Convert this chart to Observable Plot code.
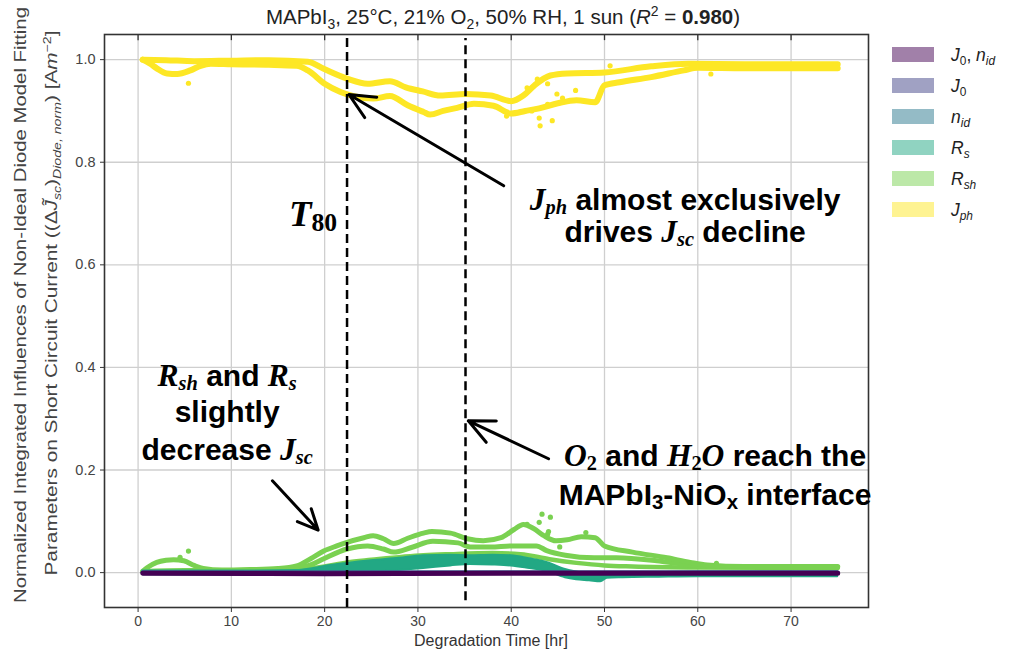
<!DOCTYPE html>
<html>
<head>
<meta charset="utf-8">
<script src="https://cdn.jsdelivr.net/npm/d3@7"></script>
<script src="https://cdn.jsdelivr.net/npm/@observablehq/plot@0.6"></script>
<style>
  html, body { margin: 0; padding: 0; background: #fff; }
  #chart { width: 1011px; height: 661px; }
</style>
</head>
<body>
<div id="chart"></div>
<script>
// ---- axis ticks ----
const xTicks = [0, 10, 20, 30, 40, 50, 60, 70];
const yTicks = [0, 0.2, 0.4, 0.6, 0.8, 1.0];

// ---- series (legend order) ----
const seriesColors = ["#440154", "#414487", "#2a788e", "#22a884", "#7ad151", "#fde725"];

// J_ph influence: two bands of points [hour, value]
const jphUpper = [[0.5,1.0],[3,0.999],[6,0.997],[10,0.998],[14,0.999],[18.2,0.996],[19.9,0.982],[22.4,0.963],[24.6,0.953],[27,0.958],[28.7,0.946],[30.5,0.938],[32.4,0.930],[35.1,0.933],[37.8,0.930],[40,0.919],[41.3,0.930],[42.5,0.950],[44.2,0.969],[46,0.973],[50,0.975],[55,0.987],[59,0.992],[65,0.991],[70,0.991],[75,0.991]];
const jphLower = [[0.5,1.0],[1.3,0.992],[2,0.983],[3.1,0.973],[4.2,0.972],[5.6,0.979],[6.7,0.988],[7.8,0.992],[10,0.991],[14,0.990],[17,0.988],[18.2,0.979],[20,0.953],[21.7,0.937],[23.1,0.929],[25.2,0.924],[27,0.929],[28.9,0.911],[30.6,0.898],[31.3,0.893],[32.7,0.900],[34.2,0.906],[36,0.914],[38.1,0.910],[40,0.895],[41.5,0.900],[43,0.905],[45,0.915],[47,0.921],[49,0.917],[50,0.950],[51.6,0.956],[55,0.966],[58.5,0.979],[60,0.984],[65,0.983],[70,0.983],[75,0.983]];
const jphScatter = [[5.4,0.954],[39.5,0.890],[41.7,0.945],[42.2,0.900],[42.8,0.962],[43.0,0.886],[43.1,0.871],[43.9,0.913],[43.9,0.953],[44.4,0.881],[44.9,0.933],[45.5,0.925],[46.9,0.940],[50.6,0.988],[61.4,0.972]];

// R_sh influence: three bands plus stray points
const rshUpper = [[0.5,0.003],[1,0.010],[2,0.020],[3,0.024],[3.8,0.025],[4.9,0.023],[6,0.014],[7,0.008],[9,0.005],[12,0.006],[15,0.008],[17,0.013],[18.5,0.027],[19.9,0.042],[21.3,0.052],[22.4,0.059],[24.2,0.068],[25.2,0.072],[26.3,0.066],[27.4,0.057],[28.9,0.067],[30.6,0.077],[31.5,0.080],[33.5,0.077],[35.3,0.066],[37,0.062],[38.9,0.068],[40.3,0.084],[41.3,0.094],[42.4,0.086],[43.5,0.072],[44.8,0.062],[46,0.064],[47.5,0.070],[49,0.068],[50,0.052],[53,0.040],[56.7,0.029],[59.2,0.020],[61,0.015],[65,0.012],[75,0.012]];
const rshMiddle = [[0.5,0.002],[5,0.004],[10,0.004],[15,0.005],[17,0.008],[18.5,0.015],[19.9,0.027],[22.4,0.046],[24.6,0.052],[26.3,0.046],[27.4,0.040],[29.3,0.049],[31.6,0.061],[34.3,0.058],[35.6,0.050],[37.8,0.050],[40,0.052],[42.7,0.052],[43.8,0.043],[45.8,0.034],[48.9,0.029],[51.3,0.029],[55.6,0.023],[58.6,0.016],[61,0.012],[75,0.011]];
const rshLower = [[17,0.004],[20,0.012],[22.4,0.020],[25,0.025],[30.6,0.034],[33.5,0.036],[38,0.038],[41,0.036],[44.1,0.026],[47,0.019],[50,0.014],[53,0.012],[60,0.010],[75,0.009]];
const rshScatter = [[4.5,0.030],[5.4,0.042],[41.7,0.094],[43.0,0.098],[43.3,0.114],[44.2,0.108],[43.9,0.075],[44.0,0.080],[45.2,0.050],[48.0,0.078],[62,0.018]];

// R_s influence: band of points, [hour, low, high]
const rsBand = [[0.5,-0.004,0.003],[10,-0.005,0.003],[17,-0.005,0.004],[18.5,-0.004,0.007],[20,-0.003,0.012],[22.5,-0.002,0.018],[25,0.000,0.023],[28,0.004,0.028],[30.6,0.008,0.033],[33.5,0.013,0.034],[35.6,0.016,0.033],[38,0.015,0.034],[40,0.013,0.033],[42,0.008,0.027],[43.8,0.003,0.020],[45.8,-0.010,0.006],[47,-0.014,0.001],[48.4,-0.016,-0.003],[49.6,-0.018,-0.004],[50.3,-0.011,0.000],[52,-0.010,0.000],[55.6,-0.009,0.000],[60,-0.008,0.001],[75,-0.008,0.001]];

// n_id, J_0 and combined J_0, n_id influences stay at zero
const nidLine = [[0.5,0.0],[75,0.0]];
const j0Line = [[0.5,0.0],[75,0.0]];
const j0nidLine = [[0.5,-0.001],[20,-0.002],[40,-0.001],[75,-0.001]];

// markers for T80 and for the O2 / H2O arrival
const markerLines = [{x: 22.4, y1: -0.068, y2: 1.049}, {x: 35.1, y1: -0.055, y2: 1.041}];

// annotation arrows (tail -> head)
const arrows = [
  {x1: 39.2, y1: 0.754, x2: 22.6, y2: 0.932},
  {x1: 14.4, y1: 0.179, x2: 19.3, y2: 0.083},
  {x1: 44.0, y1: 0.222, x2: 35.4, y2: 0.296}
];

const X = d => d[0], Y = d => d[1];
const band = (data, color, w) => Plot.line(data, {x: X, y: Y, stroke: color, strokeWidth: w, curve: "monotone-x", strokeLinecap: "round", strokeLinejoin: "round"});

const chart = Plot.plot({
  width: 1011,
  height: 661,
  marginLeft: 104,
  marginRight: 143,
  marginTop: 34,
  marginBottom: 54,
  x: {domain: [-3.6, 78.3]},
  y: {domain: [-0.068, 1.049]},
  style: {fontFamily: "'Liberation Sans', Arial, sans-serif", fontSize: "14px", color: "#333", background: "#fff", overflow: "visible"},
  marks: [
    Plot.gridX(xTicks, {stroke: "#cfcfcf", strokeOpacity: 1, strokeWidth: 1.3}),
    Plot.gridY(yTicks, {stroke: "#cfcfcf", strokeOpacity: 1, strokeWidth: 1.3}),
    Plot.axisX(xTicks, {tickSize: 5, tickPadding: 4, label: null, fill: "#444", fontSize: 14}),
    Plot.axisY(yTicks, {tickSize: 4, tickPadding: 5, label: null, tickFormat: d => d.toFixed(1), fill: "#444", fontSize: 14.5}),
    Plot.ruleX(xTicks, {y1: 1.049, y2: 1.037, stroke: "#333", strokeWidth: 1.3}),

    // J_ph
    band(jphUpper, seriesColors[5], 6),
    band(jphLower, seriesColors[5], 6),
    Plot.dot(jphScatter, {x: X, y: Y, r: 2.6, fill: seriesColors[5]}),
    // R_sh
    band(rshLower, seriesColors[4], 4.5),
    band(rshMiddle, seriesColors[4], 5),
    band(rshUpper, seriesColors[4], 5),
    Plot.dot(rshScatter, {x: X, y: Y, r: 2.6, fill: seriesColors[4]}),
    // R_s
    Plot.areaY(rsBand, {x: d => d[0], y1: d => d[1], y2: d => d[2], fill: seriesColors[3], stroke: seriesColors[3], strokeWidth: 2, curve: "monotone-x"}),
    // n_id, J_0, J_0 & n_id
    band(nidLine, seriesColors[2], 4),
    band(j0Line, seriesColors[1], 4),
    band(j0nidLine, seriesColors[0], 5),

    Plot.frame({stroke: "#333", strokeWidth: 1.6}),

    Plot.ruleX(markerLines, {x: "x", y1: "y1", y2: "y2", stroke: "#000", strokeWidth: 2.5, strokeDasharray: "9,5"}),
    Plot.arrow(arrows, {x1: "x1", y1: "y1", x2: "x2", y2: "y2", stroke: "#000", strokeWidth: 3, headLength: 14, headAngle: 50})
  ]
});

document.getElementById("chart").appendChild(chart);

// ---------- text layers ----------
const svg = d3.select(chart);
const xs = chart.scale("x"), ys = chart.scale("y");
const SANS = "'Liberation Sans', Arial, sans-serif";
const SERIF = "'Liberation Serif', 'Times New Roman', serif";

// Writes a line made of styled pieces; sub/sup pieces are lowered or raised.
function richLine(g, x, y, parts, opts) {
  const size = opts.size;
  const t = g.append("text")
    .attr("x", x).attr("y", y)
    .attr("text-anchor", opts.anchor || "middle")
    .attr("font-size", size)
    .attr("font-family", opts.family || SANS)
    .attr("font-weight", opts.weight || "normal")
    .attr("fill", opts.fill || "#000");
  if (opts.transform) t.attr("transform", opts.transform);
  const subDrop = opts.subDrop != null ? opts.subDrop : 0.24;
  let shift = 0;
  for (const p of parts) {
    const s = t.append("tspan").text(p.t);
    if (p.serif) s.attr("font-family", SERIF);
    if (p.i) s.attr("font-style", "italic");
    if (p.b) s.attr("font-weight", "bold");
    const target = p.sub ? size * subDrop : p.sup ? -size * 0.38 : 0;
    if (p.sub || p.sup) s.attr("font-size", size * (p.scale || 0.68));
    else if (p.big) s.attr("font-size", size * p.big);
    if (target !== shift) { s.attr("dy", target - shift); shift = target; }
  }
  return t;
}

// title
richLine(svg, 503, 24, [
  {t: "MAPbI"}, {t: "3", sub: 1}, {t: ", 25°C, 21% O"}, {t: "2", sub: 1},
  {t: ", 50% RH, 1 sun ("}, {t: "R", i: 1}, {t: "2", sup: 1}, {t: " = "}, {t: "0.980", b: 1}, {t: ")"}
], {size: 20.5, fill: "#222"});

// axis titles
richLine(svg, 491, 646, [{t: "Degradation Time [hr]"}], {size: 16, fill: "#333"});
richLine(svg, 0, 0, [{t: "Normalized Integrated Influences of Non-Ideal Diode Model Fitting"}],
  {size: 16, fill: "#444", transform: "translate(26,305) rotate(-90)"}).attr("textLength", 596).attr("lengthAdjust", "spacingAndGlyphs");
richLine(svg, 0, 0, [
  {t: "Parameters on Short Circuit Current ((Δ"}, {t: "J̃", i: 1}, {t: "sc", sub: 1, i: 1}, {t: ")"},
  {t: "Diode, norm", sub: 1, i: 1}, {t: ") [A"}, {t: "m", i: 1}, {t: "−2", sup: 1}, {t: "]"}
], {size: 16, fill: "#444", transform: "translate(57,303) rotate(-90)"}).attr("textLength", 545).attr("lengthAdjust", "spacingAndGlyphs");

// annotations, anchored in data coordinates
const ann = svg.append("g");
const A = {size: 30, weight: "bold", subDrop: 0.13};
const M = (t) => ({t, serif: 1, i: 1, big: 1.05});
const MS = (t) => ({t, serif: 1, i: 1, sub: 1, scale: 0.68});
const DS = (t) => ({t, serif: 1, sub: 1, scale: 0.68});
richLine(ann, xs.apply(18.8), ys.apply(0.674), [{t: "T", serif: 1, i: 1, big: 1.15}, {t: "80", serif: 1, sub: 1, scale: 0.8}], {size: 32, weight: "bold", subDrop: 0.15});
richLine(ann, xs.apply(58.7), ys.apply(0.705), [M("J"), MS("ph"), {t: " almost exclusively"}], A);
richLine(ann, xs.apply(58.7), ys.apply(0.643), [{t: "drives "}, M("J"), MS("sc"), {t: " decline"}], A);
richLine(ann, xs.apply(9.6), ys.apply(0.362), [M("R"), MS("sh"), {t: " and "}, M("R"), MS("s")], A);
richLine(ann, xs.apply(9.6), ys.apply(0.292), [{t: "slightly"}], A);
richLine(ann, xs.apply(9.6), ys.apply(0.218), [{t: "decrease "}, M("J"), MS("sc")], A);
richLine(ann, xs.apply(61.9), ys.apply(0.206), [M("O"), DS("2"), {t: " and "}, M("H"), DS("2"), M("O"), {t: " reach the"}], A);
richLine(ann, xs.apply(61.9), ys.apply(0.130), [{t: "MAPbI"}, {t: "3", sub: 1, scale: 0.68}, {t: "-NiO"}, {t: "x", sub: 1, scale: 0.68}, {t: " interface"}], A);

// legend
const legendLabels = [
  [{t: "J", i: 1}, {t: "0", sub: 1}, {t: ", "}, {t: "n", i: 1}, {t: "id", sub: 1, i: 1}],
  [{t: "J", i: 1}, {t: "0", sub: 1}],
  [{t: "n", i: 1}, {t: "id", sub: 1, i: 1}],
  [{t: "R", i: 1}, {t: "s", sub: 1, i: 1}],
  [{t: "R", i: 1}, {t: "sh", sub: 1, i: 1}],
  [{t: "J", i: 1}, {t: "ph", sub: 1, i: 1}]
];
const leg = svg.append("g");
legendLabels.forEach((parts, i) => {
  leg.append("rect").attr("x", 892).attr("y", 47 + 31 * i).attr("width", 42).attr("height", 15)
    .attr("fill", seriesColors[i]).attr("fill-opacity", 0.5);
  richLine(leg, 951, 61 + 31 * i, parts, {size: 17.5, anchor: "start", fill: "#222"});
});
</script>
</body>
</html>
